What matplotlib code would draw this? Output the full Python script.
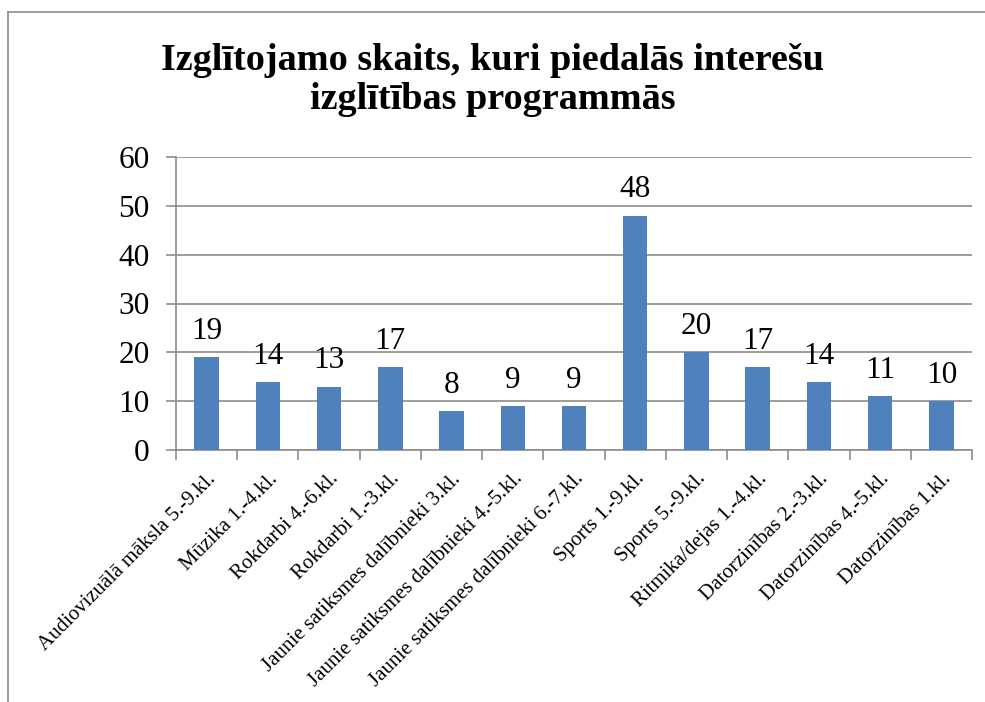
import matplotlib
matplotlib.use("Agg")
import matplotlib.pyplot as plt
from matplotlib.lines import Line2D

categories = ["Audiovizuālā māksla 5.-9.kl.", "Mūzika 1.-4.kl.", "Rokdarbi 4.-6.kl.",
              "Rokdarbi 1.-3.kl.", "Jaunie satiksmes dalībnieki 3.kl.",
              "Jaunie satiksmes dalībnieki 4.-5.kl.", "Jaunie satiksmes dalībnieki 6.-7.kl.",
              "Sports 1.-9.kl.", "Sports 5.-9.kl.", "Ritmika/dejas 1.-4.kl.",
              "Datorzinības 2.-3.kl.", "Datorzinības 4.-5.kl.", "Datorzinības 1.kl."]
values = [19, 14, 13, 17, 8, 9, 9, 48, 20, 17, 14, 11, 10]
yticks = [0, 10, 20, 30, 40, 50, 60]
title = "Izglītojamo skaits, kuri piedalās interešu\nizglītības programmās"

plt.rcParams['font.family'] = ['Liberation Serif', 'DejaVu Serif']
W, H = 985, 702
fig = plt.figure(figsize=(W/100, H/100), dpi=100)
ax = fig.add_axes([176/W, 1-450/H, (972-176)/W, (450-157)/H])

x = list(range(len(categories)))
bars = ax.bar(x, values, width=0.40, color="#4F81BD", zorder=3)
for xi, v in zip(x, values):
    ax.annotate(str(v), (xi, v), xytext=(0, 8), textcoords="offset points",
                ha="center", va="bottom", fontsize=22.5)

ax.set_xlim(-0.5, len(categories)-0.5)
ax.set_ylim(0, 60)
ax.set_yticks(yticks)
ax.set_yticklabels([str(t) for t in yticks], fontsize=22.5)
ax.yaxis.grid(True, color="#8C8C8C", linewidth=1.2, zorder=0)
ax.set_xticks(x)
ax.set_xticklabels(categories, rotation=45, ha="right", rotation_mode="anchor", fontsize=15)
ax.tick_params(axis="x", length=0, pad=14)
ax.tick_params(axis="y", length=7, color="#8C8C8C", width=1.2, pad=12)
# minor ticks at category boundaries
ax.set_xticks([i - 0.5 for i in range(len(categories)+1)], minor=True)
ax.tick_params(axis="x", which="minor", length=7, color="#8C8C8C", width=1.2)
for s in ["top", "right"]:
    ax.spines[s].set_visible(False)
for s in ["left", "bottom"]:
    ax.spines[s].set_color("#8C8C8C")
    ax.spines[s].set_linewidth(1.2)

fig.text(0.5, 1-80/H, title, ha="center", va="center", fontsize=27.5, fontweight="bold",
         linespacing=1.12)

# outer chart border
fig.add_artist(Line2D([8/W, 8/W], [0, 1-12/H], color="#8C8C8C", linewidth=1.2))
fig.add_artist(Line2D([8/W, 1], [1-12/H, 1-12/H], color="#8C8C8C", linewidth=1.2))

fig.savefig("out.png", dpi=100)
